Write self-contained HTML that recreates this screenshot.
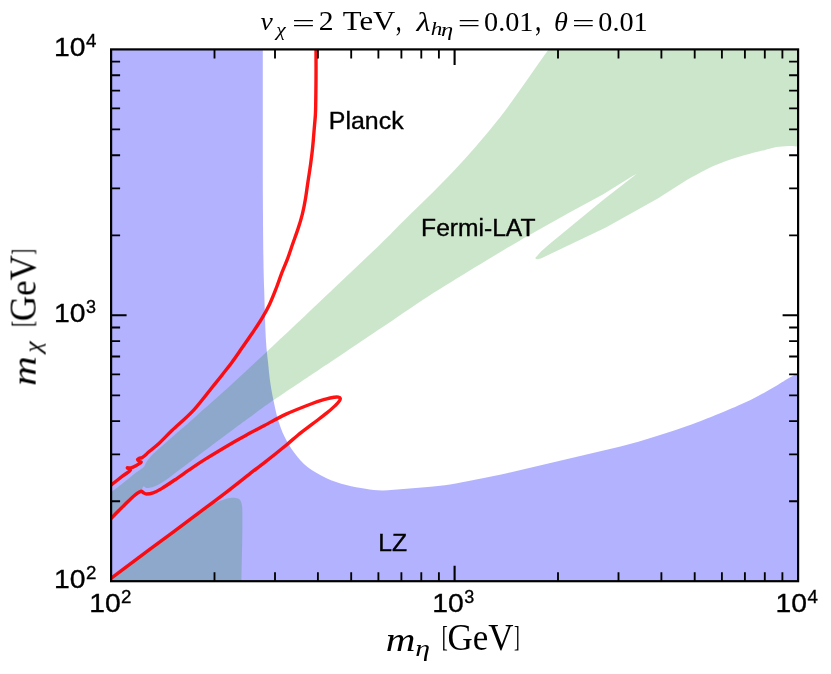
<!DOCTYPE html>
<html lang="en">
<head>
<meta charset="utf-8">
<title>Exclusion plot</title>
<style>
  html, body { margin:0; padding:0; background:#ffffff; }
  body { width:831px; height:674px; overflow:hidden; font-family:"Liberation Sans", sans-serif; }
  svg { display:block; }
  .txt { filter:grayscale(1); }
  .sans { font-family:"Liberation Sans", sans-serif; fill:#000; stroke:#000; stroke-width:0.35px; }
  .serif { font-family:"Liberation Serif", serif; fill:#000; }
  .it { font-style:italic; }
</style>
</head>
<body>
<svg width="831" height="674" viewBox="0 0 831 674">
  <rect width="831" height="674" fill="#ffffff"/>
  <defs>
    <clipPath id="ax"><rect x="111.1" y="49.4" width="687" height="531.8"/></clipPath>
  </defs>

  <!-- filled exclusion regions -->
  <g clip-path="url(#ax)">
    <path d="M111.1 49.4L262.8 49.4C262.8 61.2 262.8 94.9 262.8 120C262.8 145.1 262.8 177 262.9 200C263 223 263.2 243 263.4 258C263.6 273 263.9 280 264.2 290C264.5 300 264.7 309 265 318C265.3 327 265.7 337 266.2 344C266.7 351 267.1 353.3 267.8 360C268.5 366.7 269.4 376.8 270.5 384C271.6 391.2 272.8 397.3 274.1 403.3C275.4 409.3 276.4 414.6 278.2 420.2C280 425.8 282 431.6 284.7 437C287.4 442.4 290.5 447.7 294.3 452.7C298.1 457.7 302.2 462.9 307.5 467.1C312.8 471.3 319.5 474.9 326 477.9C332.5 480.9 339.7 483.3 346.3 485.1C352.9 486.9 359.5 487.9 365.5 488.8C371.5 489.7 375.6 490.4 382.4 490.4C389.2 490.4 398.4 489.4 406.4 488.8C414.4 488.2 423.2 487.5 430.5 486.8C437.8 486.1 442.4 485.8 450 484.6C457.6 483.4 465.7 481.7 476.1 479.6C486.5 477.5 500.2 474.6 512.2 471.9C524.2 469.2 536.3 466.3 548.3 463.5C560.3 460.7 572.4 457.9 584.4 455.1C596.4 452.3 608.5 449.7 620.5 446.6C632.5 443.5 644.1 440 656.1 436.3C668.1 432.6 680.2 428.6 692.2 424.2C704.2 419.8 718.3 414 728.3 409.8C738.3 405.6 744.4 403 752.4 399C760.4 395 770.4 389.1 776.4 385.7C782.4 382.2 784.9 380.4 788.5 378.3C792.1 376.2 796.5 374.1 798.1 373.2L798.1 581.2L111.1 581.2Z" fill="#0000ff" fill-opacity="0.3"/>
    <path d="M111.1 492.2C113.1 490.7 119.1 486.1 123.1 483C127.1 479.9 131.7 475.9 135.1 473.3C138.5 470.7 141.6 469.2 143.5 467.3C145.4 465.4 144.9 464.1 146.5 461.9C148.1 459.7 150 457.2 153.1 454.1C156.2 451 160.4 447.4 165.2 443.2C170 438.9 176.8 433.2 182 428.6C187.2 424.1 188 423.3 196.3 415.9C204.6 408.5 220.1 394.9 232 384C243.9 373.1 256.7 361.1 268 350.5C279.3 339.9 288 331.8 300 320.5C312 309.2 326.7 295.2 340 282.5C353.3 269.8 369.3 254.8 380 244.5C390.7 234.2 396.2 228.2 404 220.5C411.8 212.8 419 206 427 198C435 190 444 181.1 452.2 172.4C460.4 163.7 468.3 155.1 476.3 145.9C484.3 136.7 493.1 126.2 500.3 117C507.5 107.8 513.6 98.9 519.6 90.5C525.6 82.1 531.6 73.3 536.4 66.5C541.2 59.6 546.5 52.2 548.5 49.4L798.1 49.4L798.1 146.4C796.5 146.3 792.1 145.8 788.5 145.9C784.9 146 780.4 146.4 776.4 147.1C772.4 147.8 768.4 149.2 764.4 150.2C760.4 151.2 758.4 151.4 752.4 153.1C746.4 154.8 735.8 157.7 728.3 160.3C720.8 162.9 714.8 165.4 707.7 168.8C700.7 172.2 689.6 178.6 686 180.6L657.8 198.5L605.9 227.4L541.5 258.2C540.9 258.4 538.6 259.2 537.6 259.2C536.6 259.2 535.5 258.7 535.3 258.2C535.1 257.7 536.4 256.7 536.6 256.4L541 251.6L548.9 244.4L572.9 224.8L603.7 199.4L632.6 176.9L636.5 174L632.6 176L603.7 194L570 212.2L525 237.4C516.9 242.3 492.4 256.7 476.3 266.6C460.2 276.5 441.7 287.9 428.1 296.6C414.6 305.3 409.5 309.1 395 318.8C380.5 328.5 354.9 345.8 341.1 355C327.3 364.2 319.1 369.7 312.2 374.3C305.3 378.9 306.6 378 300 382.4C293.4 386.8 280.2 395.5 272.5 400.8C264.8 406.1 260.3 409.6 254 414.2C247.7 418.8 243 422.1 234.8 428.2C226.6 434.2 212.6 444.8 205 450.5C197.4 456.2 193.8 459 189.2 462.5C184.6 466 181.2 468.5 177.2 471.5C173.2 474.5 168.8 478.1 165.2 480.5C161.6 482.9 158.1 484.8 155.5 486C152.9 487.2 151.1 487.5 149.5 487.8C147.9 488.1 146.9 488.1 145.9 487.8C144.9 487.6 144.3 485.7 143.5 486.3C142.7 486.9 141.5 490.4 141.1 491.2C140.5 491.5 139.5 491.7 137.5 493.2C135.5 494.7 132.3 497.4 129.1 500.4C125.9 503.4 121.2 508.1 118.2 511.2C115.2 514.3 112.3 517.5 111.1 518.8Z" fill="#008000" fill-opacity="0.2"/>
    <path d="M111.1 581.2L111.1 578.2L150 549.4L198 513.6C200.3 512.1 208 506.8 212 504.6C216 502.4 219 501.3 222 500.2C225 499.1 227.7 498.4 230 498C232.3 497.6 234.4 497.6 236 497.9C237.6 498.2 238.7 498.6 239.6 499.6C240.5 500.6 241.1 501.4 241.6 503.7C242.1 506 242.3 506.9 242.4 513.3C242.5 519.7 242.4 530.7 242.2 542C242 553.3 241.5 574.7 241.4 581.2Z" fill="#008000" fill-opacity="0.2"/>
    <g fill="none" stroke="#ff0000" stroke-opacity="0.93" stroke-width="3.4" stroke-linejoin="round" stroke-linecap="butt">
      <path d="M316 47.4C316 52.8 316.1 69.6 316 80C315.9 90.4 315.8 102.6 315.6 110C315.4 117.4 315 119.6 314.6 124.4C314.2 129.2 313.8 134.1 313.4 138.9C313 143.7 312.6 148.5 312 153.3C311.4 158.1 310.8 163 310.1 167.8C309.4 172.6 308.6 177.2 307.9 182.2C307.1 187.2 306.5 192.6 305.6 198C304.7 203.4 303.6 209.2 302.3 214.4C301 219.6 299.6 224.1 298 228.9C296.4 233.7 294.6 238.5 292.9 243.3C291.2 248.1 289.7 253 287.9 257.8C286.1 262.6 284 267.2 282.1 272.2C280.2 277.1 278.6 282.1 276.5 287.5C274.4 292.9 272 299.2 269.5 304.4C267 309.6 264.5 314.1 261.6 318.9C258.7 323.7 255.4 328.5 252.2 333.3C248.9 338.1 245.5 343 242.1 347.8C238.7 352.6 235.4 357.6 232 362.2C228.6 366.8 225 371.2 221.9 375.2C218.8 379.2 217.9 380.2 213.2 386C208.5 391.8 200.7 402.4 193.9 409.8C187.1 417.2 178 424.7 172.2 430.3C166.4 435.9 163.2 439.5 159.2 443.2C155.2 446.9 150.3 450.6 148.1 452.5C145.9 454.4 146.9 453.9 145.9 454.7C144.9 455.5 143.4 456.8 142.3 457.4C141.2 458 140.1 457.9 139.3 458.3C138.5 458.7 137.5 459 137.5 459.5C137.5 460 138.7 461 139.3 461.5C139.9 462 141.6 461.6 141.1 462.3C140.6 463 138 464.6 136.3 465.5C134.6 466.4 132.4 467.5 130.9 467.9C129.4 468.3 127.4 467.5 127.3 467.9C127.2 468.3 131 469 130.3 470.3C129.6 471.6 126.6 473 123.1 475.7C119.6 478.4 111.4 484.8 109.1 486.6"/>
      <path d="M109.1 520.6C110.6 519 115.9 513.6 118.2 511.2C120.5 508.8 121.2 508.2 123 506.4C124.9 504.6 126.7 502.6 129.1 500.4C131.5 498.2 135.5 494.7 137.5 493.2C139.5 491.7 140.1 491.3 141.1 491.2C142.1 491.1 142.6 492.3 143.5 492.8C144.4 493.3 144.9 494 146.5 494C148.1 494 150.6 493.7 153.1 492.8C155.6 491.9 157.6 491 161.6 488.6C165.6 486.2 172.6 481.4 177.2 478.3C181.8 475.2 184.6 473 189.2 469.9C193.8 466.8 197.4 464.1 205 459.4C212.6 454.7 227.3 445.9 234.8 441.5C242.3 437.1 245.1 435.8 250 433.1C254.9 430.4 258.4 428.7 264.4 425.5C270.4 422.3 278.1 417.8 286.1 414.1C294.1 410.4 305.4 406.1 312.2 403.5C318.9 400.9 322.9 399.9 326.6 398.8C330.3 397.8 332.6 397.5 334.6 397.2C336.6 396.9 337.5 397 338.4 397.2C339.3 397.4 340 397.8 340.2 398.4C340.4 399 340.4 399.4 339.6 400.6C338.8 401.8 337.6 403.3 335.4 405.4C333.2 407.5 330.5 410.1 326.6 413.2C322.7 416.3 317 420.5 312.2 424.2C307.4 427.9 302.1 431.7 297.8 435.2C293.5 438.7 291.7 440.6 286.1 445.2C280.5 449.8 270.4 457.9 264.4 462.6C258.4 467.3 257 468.1 250 473.6C243 479.1 230.8 488.8 222.2 495.4C213.5 502.1 206.1 507.4 198.1 513.4C190.1 519.4 182.1 525.3 174.1 531.3C166.1 537.2 158.2 543.1 150 549.2C141.8 555.3 131.8 562.8 125 567.8C118.2 572.9 111.8 577.7 109.1 579.7"/>
    </g>
  </g>

  <!-- ticks -->
  <g stroke="#000" fill="none" stroke-linecap="butt">
<path d="M214.5 581.2v-9 M214.5 49.4v9" stroke-width="1.85"/>
<path d="M111.1 501.2h9 M798.1 501.2h-9" stroke-width="1.85"/>
<path d="M275 581.2v-9 M275 49.4v9" stroke-width="1.85"/>
<path d="M111.1 454.3h9 M798.1 454.3h-9" stroke-width="1.85"/>
<path d="M317.9 581.2v-9 M317.9 49.4v9" stroke-width="1.85"/>
<path d="M111.1 421.1h9 M798.1 421.1h-9" stroke-width="1.85"/>
<path d="M351.2 581.2v-9 M351.2 49.4v9" stroke-width="1.85"/>
<path d="M111.1 395.3h9 M798.1 395.3h-9" stroke-width="1.85"/>
<path d="M378.4 581.2v-9 M378.4 49.4v9" stroke-width="1.85"/>
<path d="M111.1 374.3h9 M798.1 374.3h-9" stroke-width="1.85"/>
<path d="M401.4 581.2v-9 M401.4 49.4v9" stroke-width="1.85"/>
<path d="M111.1 356.5h9 M798.1 356.5h-9" stroke-width="1.85"/>
<path d="M421.3 581.2v-9 M421.3 49.4v9" stroke-width="1.85"/>
<path d="M111.1 341.1h9 M798.1 341.1h-9" stroke-width="1.85"/>
<path d="M438.9 581.2v-9 M438.9 49.4v9" stroke-width="1.85"/>
<path d="M111.1 327.5h9 M798.1 327.5h-9" stroke-width="1.85"/>
<path d="M454.6 581.2v-15.5 M454.6 49.4v15.5" stroke-width="2.1"/>
<path d="M111.1 315.3h15.5 M798.1 315.3h-15.5" stroke-width="2.1"/>
<path d="M558 581.2v-9 M558 49.4v9" stroke-width="1.85"/>
<path d="M111.1 235.3h9 M798.1 235.3h-9" stroke-width="1.85"/>
<path d="M618.5 581.2v-9 M618.5 49.4v9" stroke-width="1.85"/>
<path d="M111.1 188.4h9 M798.1 188.4h-9" stroke-width="1.85"/>
<path d="M661.4 581.2v-9 M661.4 49.4v9" stroke-width="1.85"/>
<path d="M111.1 155.2h9 M798.1 155.2h-9" stroke-width="1.85"/>
<path d="M694.7 581.2v-9 M694.7 49.4v9" stroke-width="1.85"/>
<path d="M111.1 129.4h9 M798.1 129.4h-9" stroke-width="1.85"/>
<path d="M721.9 581.2v-9 M721.9 49.4v9" stroke-width="1.85"/>
<path d="M111.1 108.4h9 M798.1 108.4h-9" stroke-width="1.85"/>
<path d="M744.9 581.2v-9 M744.9 49.4v9" stroke-width="1.85"/>
<path d="M111.1 90.6h9 M798.1 90.6h-9" stroke-width="1.85"/>
<path d="M764.8 581.2v-9 M764.8 49.4v9" stroke-width="1.85"/>
<path d="M111.1 75.2h9 M798.1 75.2h-9" stroke-width="1.85"/>
<path d="M782.4 581.2v-9 M782.4 49.4v9" stroke-width="1.85"/>
<path d="M111.1 61.6h9 M798.1 61.6h-9" stroke-width="1.85"/>
  </g>
  <!-- frame -->
  <rect x="111.1" y="49.4" width="687" height="531.8" fill="none" stroke="#000" stroke-width="2.2"/>

  <g class="txt">
  <!-- tick labels -->
  <g>
    <text class="sans" x="54" y="55.8" font-size="26.3" textLength="31.5" lengthAdjust="spacingAndGlyphs">10</text><text class="sans" x="86" y="46.8" font-size="18.3" textLength="10.4" lengthAdjust="spacingAndGlyphs">4</text>
    <text class="sans" x="54" y="321.9" font-size="26.3" textLength="31.5" lengthAdjust="spacingAndGlyphs">10</text><text class="sans" x="86.1" y="312.7" font-size="17.8" textLength="10" lengthAdjust="spacingAndGlyphs">3</text>
    <text class="sans" x="54" y="587.9" font-size="26.3" textLength="31.5" lengthAdjust="spacingAndGlyphs">10</text><text class="sans" x="85.9" y="578.9" font-size="18.1" textLength="10.4" lengthAdjust="spacingAndGlyphs">2</text>
    <text class="sans" x="89.2" y="612.3" font-size="26.3" textLength="31.5" lengthAdjust="spacingAndGlyphs">10</text><text class="sans" x="121" y="603.3" font-size="18.1" textLength="10.4" lengthAdjust="spacingAndGlyphs">2</text>
    <text class="sans" x="432.2" y="612.3" font-size="26.3" textLength="31.5" lengthAdjust="spacingAndGlyphs">10</text><text class="sans" x="464.3" y="603.1" font-size="17.8" textLength="10" lengthAdjust="spacingAndGlyphs">3</text>
    <text class="sans" x="775.5" y="612.3" font-size="26.3" textLength="31.5" lengthAdjust="spacingAndGlyphs">10</text><text class="sans" x="807.5" y="603.3" font-size="18.3" textLength="10.4" lengthAdjust="spacingAndGlyphs">4</text>
  </g>

  <!-- annotations -->
  <g>
    <text class="sans" x="328.8" y="129" font-size="24.2" textLength="74.8" lengthAdjust="spacingAndGlyphs">Planck</text>
    <text class="sans" x="421.1" y="235.6" font-size="23" textLength="114.4" lengthAdjust="spacingAndGlyphs">Fermi-LAT</text>
    <text class="sans" x="378.2" y="550.5" font-size="24.1" textLength="28.8" lengthAdjust="spacingAndGlyphs">LZ</text>
  </g>

  <!-- title -->
  <g>
    <text class="serif it" x="260.6" y="30.1" font-size="25.4" textLength="12.3" lengthAdjust="spacingAndGlyphs">v</text>
    <text class="serif it" x="276.2" y="35.7" font-size="18.6" textLength="9.5" lengthAdjust="spacingAndGlyphs">χ</text>
    <text class="serif" x="292" y="32.2" font-size="25.6" textLength="22.9" lengthAdjust="spacingAndGlyphs">=</text>
    <text class="serif" x="318.7" y="30.3" font-size="26.7" textLength="14.8" lengthAdjust="spacingAndGlyphs">2</text>
    <text class="serif" x="342.8" y="30.3" font-size="26.9" textLength="52.5" lengthAdjust="spacingAndGlyphs">TeV</text>
    <text class="serif" x="395.8" y="30.7" font-size="33.9" textLength="5.9" lengthAdjust="spacingAndGlyphs">,</text>
    <text class="serif it" x="416.6" y="30.8" font-size="27.4" textLength="13.9" lengthAdjust="spacingAndGlyphs">λ</text>
    <text class="serif it" x="430.7" y="34.8" font-size="18" textLength="11.6" lengthAdjust="spacingAndGlyphs">h</text>
    <text class="serif it" x="440.9" y="35.8" font-size="18.3" textLength="12.2" lengthAdjust="spacingAndGlyphs">η</text>
    <text class="serif" x="457.7" y="32.2" font-size="25.6" textLength="22.7" lengthAdjust="spacingAndGlyphs">=</text>
    <text class="serif" x="484.1" y="30.6" font-size="27.8" textLength="49.4" lengthAdjust="spacingAndGlyphs">0.01</text>
    <text class="serif" x="535" y="30.7" font-size="33.9" textLength="6.4" lengthAdjust="spacingAndGlyphs">,</text>
    <text class="serif it" x="553.9" y="30.6" font-size="27.8" textLength="13.9" lengthAdjust="spacingAndGlyphs">θ</text>
    <text class="serif" x="571.9" y="32.2" font-size="25.6" textLength="22.7" lengthAdjust="spacingAndGlyphs">=</text>
    <text class="serif" x="598.3" y="30.6" font-size="27.8" textLength="49.4" lengthAdjust="spacingAndGlyphs">0.01</text>
  </g>

  <!-- x axis label -->
  <g transform="translate(387.2 650.3)">
    <text class="serif it" x="-1.5" y="0.2" font-size="33.5" textLength="29.7" lengthAdjust="spacingAndGlyphs">m</text>
    <text class="serif it" x="28.1" y="5.5" font-size="22.6" textLength="14.8" lengthAdjust="spacingAndGlyphs">η</text>
    <text class="serif" x="54.5" y="-3.9" font-size="29.2" textLength="6" lengthAdjust="spacingAndGlyphs">[</text>
    <text class="serif" x="60.3" y="0" font-size="37.1" textLength="66" lengthAdjust="spacingAndGlyphs">GeV</text>
    <text class="serif" x="126.8" y="-3.9" font-size="29.2" textLength="5.7" lengthAdjust="spacingAndGlyphs">]</text>
  </g>

  <!-- y axis label -->
  <g transform="translate(35.6 384.4) rotate(-90)">
    <text class="serif it" x="-1.5" y="0.2" font-size="33.5" textLength="29.7" lengthAdjust="spacingAndGlyphs">m</text>
    <text class="serif it" x="31.7" y="4.8" font-size="23.5" textLength="11.3" lengthAdjust="spacingAndGlyphs">χ</text>
    <text class="serif" x="57.4" y="-3.9" font-size="29.2" textLength="6" lengthAdjust="spacingAndGlyphs">[</text>
    <text class="serif" x="63.2" y="0" font-size="37.1" textLength="66" lengthAdjust="spacingAndGlyphs">GeV</text>
    <text class="serif" x="129.7" y="-3.9" font-size="29.2" textLength="5.7" lengthAdjust="spacingAndGlyphs">]</text>
  </g>
  </g>
</svg>
</body>
</html>
